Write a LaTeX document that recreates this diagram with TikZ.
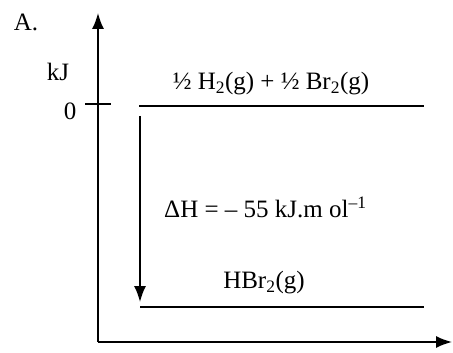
\documentclass[tikz,border=0pt]{standalone}
\usepackage{fontspec}
\setmainfont{Liberation Serif}
\usepackage{tikz}
\usetikzlibrary{arrows.meta, positioning}

\tikzset{
  axis/.style={line width=1.6pt, -{Latex[length=16pt, width=12pt]}},
  level/.style={line width=1.6pt},
  lbl/.style={font=\fontsize{25}{28}\selectfont, inner sep=0pt}
}

\begin{document}
\begin{tikzpicture}[x=1pt, y=-1pt]
\useasboundingbox (0,0) rectangle (453,353);
% axes
\coordinate (O) at (98,342);
\coordinate (ytop) at (98,13);
\coordinate (xend) at (452,342);
\draw[axis] (O) -- (ytop);
\draw[axis] (O) -- (xend);
\node[lbl] (title) at (26,22) {A.};
\node[lbl] (unit) at (58,72) {kJ};
% zero tick
\coordinate (tickL) at (85,104);
\coordinate (tickR) at (111,104);
\draw[level] (tickL) -- (tickR);
\node[lbl] (zero) at (70,111) {0};
% energy levels
\coordinate (topL) at (139,106);
\coordinate (topR) at (424,106);
\coordinate (botL) at (140,307);
\coordinate (botR) at (424,307);
\draw[level] (topL) -- (topR);
\draw[level] (botL) -- (botR);
\node[lbl] (react) at (271,84) {½ H\textsubscript{2}(g) + ½ Br\textsubscript{2}(g)};
\node[lbl] (prod) at (264,283) {HBr\textsubscript{2}(g)};
% enthalpy change
\coordinate (dHtop) at (140,116);
\coordinate (dHbot) at (140,302);
\draw[axis] (dHtop) -- (dHbot);
\node[lbl, anchor=west] (dH) at (164,207) {ΔH = – 55 kJ.m ol\textsuperscript{–1}};
\end{tikzpicture}
\end{document}
